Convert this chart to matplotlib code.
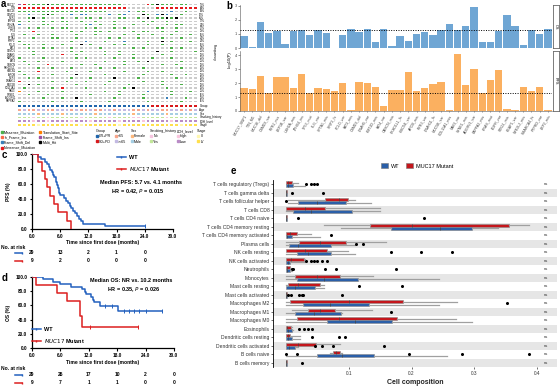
import numpy as np
import matplotlib
matplotlib.use("Agg")
import matplotlib.pyplot as plt
import matplotlib.transforms as mtrans
from matplotlib.colors import ListedColormap
from matplotlib.lines import Line2D
from matplotlib.patches import Patch

plt.rcParams['font.family'] = ['Liberation Sans', 'DejaVu Sans']
plt.rcParams['axes.linewidth'] = 0.6

W, H = 560, 386


def rect(x0, y0, x1, y1):
    # pixel box (top-left origin) -> figure fraction rect
    return [x0 / W, 1 - y1 / H, (x1 - x0) / W, (y1 - y0) / H]


def fx(x):
    return x / W


def fy(y):
    return 1 - y / H


# ---------------- data: a (oncoplot) ----------------
N_SAMPLES = 38
genes = ["MUC17", "TTN", "MUC16", "CSMD3", "RYR2", "LRP1B", "USH2A", "ZFHX4",
         "TP53", "FLG", "SPTA1", "XIRP2", "PCLO", "FAT3", "CSMD1", "DNAH5",
         "KMT2D", "FAT4", "OBSCN", "PKHD1L1", "HMCN1", "APOB", "RYR3",
         "DNAH11", "MUC5B", "COL11A1", "NAV3", "SYNE1", "ADGRV1", "PAPPA2"]
onco_rows = [
    "FNMMMMXMMMMMMMMMMMMMMM.....NMXMMM.MM..",
    "NNNNNNNNNNNNNNNNNNNNNNN......NNNNNNNNN",
    "MMMMMMMMMMMMMMMMMMM....D.MM.....D..M..",
    "..D..MXM...D.DD....D.MD...XM.DXD..M...",
    "..MX.M...M..M.MM.M...MM..M.X.MMXMX....",
    "M.M..M.M.MM..M..M...M.....M.M..M......",
    "D....MM...M...MD.M..M...M..M...M.MM...",
    "..M.M..M.MM...M.M...M.M......MM..M....",
    "...N.......M.M..MM.M....M.MM..M..M....",
    ".M..M..M....M...M.....M..M..M...M...M.",
    "...M...MM...M......M.M...M....M...M...",
    "M..........M..D...M...D....M..X.M...M.",
    ".MM..M...M...X.M....M.M....M..M.......",
    "..M..M.M...M.....M......M.M.....M.M...",
    "...M.......M.M....M..M.......X..M....M",
    "...M.....N..M.....M..M..M.....M.......",
    "M....M......M.M.....M...M...M...M.....",
    ".M..M....M........M...M..M.X......M...",
    "..M...N......M..M.....M.......M..M....",
    "....M..M...M.....M..M.....M.......M...",
    "M...N.....M....M......M....M..M.......",
    ".M.....M....X.....M.......M.....M..M..",
    "..M.M......M...M....X....M.......M....",
    "N......M..M...M....M......M...M.......",
    "..X.M.......M.....M....M......M...M...",
    ".M.....M.N....M.......M.X......M......",
    "T...M....M........M..M.....D....M...M.",
    "..M...M........M.....M....M.....M.....",
    ".....M...M..X.......M.....M....D...M..",
    "M......M.....M.....M.......M......M...",
]
mut_types = ["Missense_Mutation", "In_Frame_Ins", "Frame_Shift_Del", "Nonsense_Mutation",
             "Translation_Start_Site", "Frame_Shift_Ins", "Multi_Hit"]
mut_codes = ["M", "I", "D", "N", "T", "F", "X"]
mut_colors = ["#4DAF4A", "#FB6A4A", "#377EB8", "#E41A1C", "#FF7F00", "#984EA3", "#000000"]

track_names = ["Group", "Age", "Sex", "Smoking_history", "LDH_level", "Stage"]
tracks = [
    "BBBBBBBBBBBBBBBBBBBBBBBBBBBBRRRRRRRRRR",
    "abaabbaabbbabaabaabbabbbaababbaabbabab",
    "mmmmfmmmmfmmmmmmfmmmmmmmfmmmmmmfmmmmmm",
    "yyynyynyyyyyynyyyyynyyyynnyyyyynyyyyyy",
    "lllhllhllllhlllhlllllhllllhlllllhlllll",
    "44443444444443444444434444444444443444",
]
track_legend = [
    ("Group", ["CR+PR", "SD+PD"], ["B", "R"]),
    ("Age", ["<65", ">=65"], ["a", "b"]),
    ("Sex", ["Female", "Male"], ["f", "m"]),
    ("Smoking_history", ["No", "Yes"], ["n", "y"]),
    ("LDH_level", ["High", "Low"], ["h", "l"]),
    ("Stage", ["III", "IV"], ["3", "4"]),
]
track_colors = {"B": "#2166AC", "R": "#D7191C", "a": "#F7A58B", "b": "#C3B9E3",
                "f": "#FDB87D", "m": "#A6CEE3", "n": "#F6C5E0", "y": "#C2E699",
                "h": "#F9C6DD", "l": "#B98BC6", "3": "#FFF7B0", "4": "#FFE04D"}

# ---------------- data: b ----------------
b_labels = ["MUC17_SNP1", "TTN_M1", "MUC16_del", "CSMD3_var", "RYR2_mis", "LRP1B_var",
            "USH2A_mis", "ZFHX4_ins", "TP53_mut", "FLG_var", "SPTA1_mis", "XIRP2_fs",
            "PCLO_var", "FAT3_mis", "CSMD1_del", "DNAH5_var", "KMT2D_mis", "FAT4_var",
            "OBSCN_mis", "PKHD1L1_fs", "HMCN1_var", "APOB_mis", "RYR3_var", "DNAH11_fs",
            "MUC5B_var", "COL11A1_mis", "NAV3_var", "SYNE1_mis", "ADGRV1_var", "PAPPA2_mis",
            "KRAS_mut", "EGFR_var", "STK11_mis", "KEAP1_var", "NFE2L2_mis", "SMARCA4_fs",
            "PTPRD_var", "LRP2_mis"]
os_logp = [0.87, 0.10, 1.85, 1.05, 1.18, 0.30, 1.18, 1.32, 0.90, 1.32, 1.10, 0.00,
           0.93, 1.35, 1.15, 1.33, 0.45, 1.33, 0.12, 0.87, 0.50, 0.97, 1.12, 0.92,
           1.30, 1.69, 1.29, 1.59, 2.95, 0.45, 0.45, 1.21, 2.36, 1.57, 0.21, 1.29,
           1.00, 1.33]
pfs_logp = [1.66, 1.57, 2.50, 1.31, 2.43, 2.45, 1.64, 2.64, 1.31, 1.66, 1.57, 1.43,
            2.00, 0.05, 2.09, 1.98, 1.69, 0.35, 1.50, 1.50, 2.79, 1.43, 1.64, 1.93,
            2.05, 0.05, 4.07, 1.83, 2.98, 1.31, 2.21, 2.93, 0.15, 0.05, 1.69, 1.43,
            1.69, 0.08]

# ---------------- data: c, d (Kaplan-Meier) ----------------
pfs_wt_time = [0, 1.3, 2.0, 2.7, 3.2, 3.6, 3.9, 4.2, 4.4, 4.7, 5.0, 5.2, 5.4, 5.5, 5.7,
               5.8, 5.95, 6.8, 7.2, 7.6, 8.0, 8.4, 8.8, 9.2, 9.6, 10.0, 10.4, 10.9, 15.6, 24.0]
pfs_wt_surv = [100, 96.6, 93.1, 89.7, 86.2, 82.8, 79.3, 75.9, 72.4, 69.0, 65.5, 62.1, 58.6,
               55.2, 51.7, 48.3, 44.8, 41.4, 37.9, 34.5, 31.0, 27.6, 24.1, 20.7, 17.2,
               13.8, 10.3, 6.9, 3.4, 3.4]
pfs_mut_time = [0, 1.2, 2.1, 2.8, 3.1, 3.8, 4.7, 5.6, 7.4, 8.3]
pfs_mut_surv = [100, 88.9, 77.8, 66.7, 55.6, 44.4, 33.3, 22.2, 11.1, 0]
pfs_wt_censor = [24.0]

os_wt_time = [0, 2.4, 4.5, 5.9, 8.3, 10.5, 11.1, 11.5, 12.5, 12.8, 13.2, 14.3, 18.1, 27.5]
os_wt_surv = [100, 96.6, 93.1, 89.7, 86.2, 82.8, 79.2, 75.5, 71.7, 67.9, 64.1, 58.6,
              52.4, 52.4]
os_mut_time = [0, 0.8, 5.2, 7.3, 10.1, 10.6, 22.3]
os_mut_surv = [100, 88.9, 77.8, 66.7, 44.4, 29.6, 29.6]
os_wt_censor = [15.5, 16.8, 19.5, 20.5, 21.5, 22.5, 24.0, 27.5]
os_mut_censor = [12.2, 22.3]

pfs_risk_times = [0, 6, 12, 18, 24]
pfs_risk_wt = [29, 13, 2, 1, 0]
pfs_risk_mut = [9, 2, 0, 0, 0]
os_risk_times = [0, 6, 12, 18, 24, 30]
os_risk_wt = [29, 26, 17, 10, 2, 0]
os_risk_mut = [9, 7, 1, 1, 0, 0]

# ---------------- data: e (immune cell composition) ----------------
cell_types = ["T cells regulatory (Tregs)", "T cells gamma delta", "T cells follicular helper",
              "T cells CD8", "T cells CD4 naive", "T cells CD4 memory resting",
              "T cells CD4 memory activated", "Plasma cells", "NK cells resting",
              "NK cells activated", "Neutrophils", "Monocytes", "Mast cells resting",
              "Mast cells activated", "Macrophages M2", "Macrophages M1", "Macrophages M0",
              "Eosinophils", "Dendritic cells resting", "Dendritic cells activated",
              "B cells naive", "B cells memory"]
mut_lo = [0, 0, 0.003, 0, 0, 0.060, 0, 0, 0, 0, 0, 0, 0, 0, 0, 0.010, 0, 0, 0, 0, 0.070, 0]
mut_q1 = [0.000, 0.000, 0.062, 0.000, 0.000, 0.134, 0.000, 0.021, 0.000, 0.000, 0.000,
          0.014, 0.004, 0.000, 0.007, 0.035, 0.017, 0.000, 0.000, 0.000, 0.075, 0.000]
mut_med = [0.004, 0.000, 0.085, 0.030, 0.000, 0.200, 0.006, 0.055, 0.030, 0.008, 0.002,
           0.050, 0.020, 0.000, 0.100, 0.055, 0.085, 0.002, 0.003, 0.020, 0.080, 0.000]
mut_q3 = [0.010, 0.001, 0.099, 0.062, 0.001, 0.356, 0.017, 0.095, 0.065, 0.028, 0.006,
          0.086, 0.055, 0.001, 0.186, 0.078, 0.177, 0.008, 0.007, 0.048, 0.086, 0.001]
mut_hi = [0.020, 0.001, 0.110, 0.150, 0.001, 0.387, 0.040, 0.160, 0.099, 0.030, 0.008,
          0.138, 0.060, 0.001, 0.272, 0.137, 0.271, 0.010, 0.022, 0.086, 0.090, 0.001]
wt_lo = [0, 0, 0.003, 0, 0, 0.088, 0, 0, 0, 0, 0, 0, 0, 0, 0, 0, 0, 0, 0, 0, 0, 0]
wt_q1 = [0.000, 0.000, 0.020, 0.011, 0.000, 0.168, 0.000, 0.005, 0.017, 0.000, 0.000,
         0.017, 0.000, 0.000, 0.027, 0.014, 0.065, 0.000, 0.000, 0.000, 0.050, 0.000]
wt_med = [0.004, 0.000, 0.050, 0.040, 0.000, 0.245, 0.002, 0.020, 0.035, 0.003, 0.002,
          0.060, 0.015, 0.000, 0.070, 0.045, 0.110, 0.003, 0.004, 0.005, 0.090, 0.000]
wt_q3 = [0.012, 0.001, 0.096, 0.106, 0.001, 0.297, 0.009, 0.072, 0.071, 0.006, 0.006,
         0.115, 0.046, 0.001, 0.133, 0.088, 0.169, 0.010, 0.010, 0.014, 0.141, 0.001]
wt_hi = [0.030, 0.001, 0.136, 0.150, 0.001, 0.338, 0.055, 0.110, 0.110, 0.030, 0.010,
         0.244, 0.060, 0.002, 0.244, 0.090, 0.297, 0.012, 0.022, 0.020, 0.257, 0.001]
e_fliers = [[0.032, 0.040, 0.045, 0.050], [0.009, 0.059], [0.0], [], [0.020, 0.220], [],
            [0.072], [0.112, 0.122], [0.167, 0.215, 0.265],
            [0.032, 0.040, 0.045, 0.050, 0.058, 0.065], [0.009, 0.012, 0.062, 0.079, 0.175],
            [], [0.117, 0.185], [0.003, 0.008, 0.021, 0.025, 0.027, 0.090], [0.352], [0.168],
            [], [0.021, 0.028, 0.035, 0.042], [0.041, 0.085, 0.094],
            [0.046, 0.058, 0.075, 0.156], [0.0, 0.018, 0.196, 0.281, 0.387], [0.025]]

WT_BLUE = "#2361BE"
MUT_RED = "#DC1F1F"

fig = plt.figure(figsize=(5.6, 3.86), dpi=100)

# ======================= a: oncoplot =======================
onco = [r.ljust(N_SAMPLES, ".")[:N_SAMPLES] for r in onco_rows]
onco_cols = ["#CCCCCC"] + mut_colors
code_idx = {".": 0}
code_idx.update({c: i + 1 for i, c in enumerate(mut_codes)})
mat = np.array([[code_idx[ch] for ch in row] for row in onco])

ax_a = fig.add_axes(rect(17, 3, 198, 103))
ax_a.pcolormesh(mat, cmap=ListedColormap(onco_cols), vmin=-0.5, vmax=len(onco_cols) - 0.5,
                edgecolors="white", linewidth=0.25)
ax_a.set_xlim(0, N_SAMPLES)
ax_a.set_ylim(len(genes), 0)
ax_a.axis("off")
for i, g in enumerate(genes):
    ax_a.text(-0.3, i + 0.5, g, ha="right", va="center", fontsize=1.8, clip_on=False)
    pct = round(100 * sum(ch != "." for ch in onco[i]) / N_SAMPLES)
    ax_a.text(N_SAMPLES + 0.3, i + 0.5, f"{pct}%", ha="left", va="center", fontsize=1.8,
              clip_on=False)
fig.text(fx(214), fy(52), "Frequency", rotation=270, fontsize=2.6, ha="center", va="center")

tr_keys = sorted(track_colors)
tr_idx = {k: i for i, k in enumerate(tr_keys)}
tr_mat = np.array([[tr_idx[ch] for ch in t.ljust(N_SAMPLES, t[-1])[:N_SAMPLES]] for t in tracks])
ax_tr = fig.add_axes(rect(17, 104, 198, 127))
ax_tr.pcolormesh(tr_mat, cmap=ListedColormap([track_colors[k] for k in tr_keys]),
                 vmin=-0.5, vmax=len(tr_keys) - 0.5, edgecolors="white", linewidth=0.25)
ax_tr.set_xlim(0, N_SAMPLES)
ax_tr.set_ylim(len(tracks), 0)
ax_tr.axis("off")
for i, nm in enumerate(track_names):
    ax_tr.text(N_SAMPLES + 0.3, i + 0.5, nm, ha="left", va="center", fontsize=2.2,
               clip_on=False)


def small_legend(x, y, labels, colors, title=None, ncol=1):
    handles = [Line2D([], [], ls="", marker="s", ms=1.9, mfc=c, mec=c) for c in colors]
    fig.legend(handles, labels, title=title, loc="upper left",
               bbox_to_anchor=(fx(x), fy(y)), frameon=False, fontsize=2.6,
               title_fontsize=2.6, handlelength=0.6, handletextpad=0.3,
               labelspacing=0.35, borderpad=0, borderaxespad=0, columnspacing=0.8,
               alignment="left", ncol=ncol)


small_legend(1, 130, mut_types, mut_colors, ncol=2)
leg_x = [96, 115, 131, 150, 177, 197]
for (title, labs, keys), lx in zip(track_legend, leg_x):
    small_legend(lx, 129, labs, [track_colors[k] for k in keys], title=title)

# ======================= b: -log10(P) bars =======================
xb = np.arange(len(b_labels))
ax_os = fig.add_axes(rect(240, 5, 552, 48))
ax_pfs = fig.add_axes(rect(240, 51, 552, 111))
for ax, vals, col, top in [(ax_os, os_logp, "#6FA6D4", 3.07), (ax_pfs, pfs_logp, "#FBB060", 4.3)]:
    ax.bar(xb, vals, width=0.9, color=col, zorder=2)
    ax.axhline(-np.log10(0.05), color="black", ls=(0, (1, 1.5)), lw=0.7, zorder=3)
    ax.set_xlim(-0.5, len(xb) - 0.5)
    ax.set_ylim(0, top)
    ax.set_yticks(range(int(top) + 1))
    ax.tick_params(axis="y", labelsize=2.8, length=1.2, width=0.4, pad=1, colors="#444444")
    for s in ["top", "right"]:
        ax.spines[s].set_visible(False)
    ax.spines["left"].set_color("#555555")
    ax.spines["left"].set_linewidth(0.4)
ax_os.set_xticks([])
ax_os.spines["bottom"].set_visible(False)
ax_pfs.spines["bottom"].set_color("#555555")
ax_pfs.spines["bottom"].set_linewidth(0.4)
ax_pfs.set_xticks(xb)
ax_pfs.set_xticklabels(b_labels, rotation=60, ha="right", rotation_mode="anchor", fontsize=2.6)
ax_pfs.tick_params(axis="x", length=1, width=0.4, pad=1, colors="#444444")
fig.text(fx(230), fy(60), "-log10(P)", rotation=90, fontsize=3, ha="center", va="center")
for (y0, y1), lab in [((5, 48), "OS"), ((51, 111), "PFS")]:
    sax = fig.add_axes(rect(552.5, y0, 559, y1))
    sax.set_xticks([])
    sax.set_yticks([])
    for s in sax.spines.values():
        s.set_color("#666666")
        s.set_linewidth(0.6)
    sax.text(0.5, 0.5, lab, rotation=270, ha="center", va="center", fontsize=2.8,
             transform=sax.transAxes)

# ======================= c, d: Kaplan-Meier =======================


def surv_at(times, surv, t):
    idx = np.searchsorted(times, t, side="right") - 1
    return surv[idx]


def km_panel(box, wt_t, wt_s, mu_t, mu_s, wt_c, mu_c, ylab, risk_t, risk_wt, risk_mu,
             risk_y, xlab_y):
    ax = fig.add_axes(rect(*box))
    ax.step(wt_t, wt_s, where="post", color=WT_BLUE, lw=1.1, zorder=3)
    ax.step(mu_t, mu_s, where="post", color=MUT_RED, lw=1.1, zorder=3)
    ax.plot(wt_c, [surv_at(wt_t, wt_s, t) for t in wt_c], ls="", marker="|", ms=2.2,
            mew=0.7, color=WT_BLUE, zorder=4)
    ax.plot(mu_c, [surv_at(mu_t, mu_s, t) for t in mu_c], ls="", marker="|", ms=2.2,
            mew=0.7, color=MUT_RED, zorder=4)
    ax.set_xlim(0, 30)
    ax.set_ylim(0, 100)
    ax.set_xticks(np.arange(0, 31, 6))
    ax.set_xticklabels([f"{v:.1f}" for v in np.arange(0, 31, 6)])
    ax.set_yticks(np.arange(0, 101, 20))
    ax.set_yticklabels([f"{v:.1f}" for v in np.arange(0, 101, 20)])
    for s in ["top", "right"]:
        ax.spines[s].set_visible(False)
    for s in ["left", "bottom"]:
        ax.spines[s].set_linewidth(0.9)
    ax.tick_params(labelsize=3.4, length=1.8, width=0.8, pad=1.5)
    for lab in ax.get_xticklabels() + ax.get_yticklabels():
        lab.set_fontweight("bold")
    ax.set_ylabel(ylab, fontsize=3.5, fontweight="bold", labelpad=3)
    fig.text(fx(103), fy(xlab_y), "Time since first dose (months)", fontsize=3.6,
             fontweight="bold", ha="center", va="center")
    tr = mtrans.blended_transform_factory(ax.transData, fig.transFigure)
    fig.text(fx(1), fy(risk_y[0]), "No. at risk", fontsize=3.6, fontweight="bold",
             va="center")
    for ry, vals, col in [(risk_y[1], risk_wt, WT_BLUE), (risk_y[2], risk_mu, MUT_RED)]:
        fig.add_artist(Line2D([fx(15), fx(22)], [fy(ry), fy(ry)], color=col, lw=1.1,
                              marker="|", ms=2, markevery=[1], transform=fig.transFigure))
        for t, n in zip(risk_t, vals):
            ax.text(t, fy(ry), str(n), transform=tr, fontsize=3.6, fontweight="bold",
                    ha="center", va="center", clip_on=False)
    return ax


ax_c = km_panel((32, 154, 173, 229), pfs_wt_time, pfs_wt_surv, pfs_mut_time, pfs_mut_surv,
                pfs_wt_censor, [], "PFS (%)", pfs_risk_times, pfs_risk_wt, pfs_risk_mut,
                (248, 253, 261), 242.5)
ax_d = km_panel((32, 277, 174, 348), os_wt_time, os_wt_surv, os_mut_time, os_mut_surv,
                os_wt_censor, os_mut_censor, "OS (%)", os_risk_times, os_risk_wt,
                os_risk_mut, (369, 374.5, 383), 362.5)

leg_handles = [Line2D([], [], color=WT_BLUE, lw=1.1, marker="|", ms=2),
               Line2D([], [], color=MUT_RED, lw=1.1, marker="|", ms=2)]
leg_labels = ["WT", r"$\mathit{MUC17}$ Mutant"]
for lx, ly in [(117, 155), (32, 327)]:
    fig.legend(leg_handles, leg_labels, loc="upper left", bbox_to_anchor=(fx(lx), fy(ly)),
               frameon=False, prop={"size": 4, "weight": "bold"}, handlelength=1.6,
               handletextpad=0.6, labelspacing=0.9, borderpad=0, borderaxespad=0)

fig.text(fx(141), fy(183), "Median PFS: 5.7 vs. 4.1 months", fontsize=4, fontweight="bold",
         ha="center", va="center")
fig.text(fx(138), fy(192), r"HR = 0.42, $\mathit{P}$ = 0.015", fontsize=4, fontweight="bold",
         ha="center", va="center")
fig.text(fx(131), fy(280), "Median OS: NR vs. 10.2 months", fontsize=4, fontweight="bold",
         ha="center", va="center")
fig.text(fx(134), fy(290), r"HR = 0.35, $\mathit{P}$ = 0.026", fontsize=4, fontweight="bold",
         ha="center", va="center")

# ======================= e: boxplots =======================
ax_e = fig.add_axes(rect(273, 180, 557, 367))
n = len(cell_types)
centers = np.arange(n)[::-1]
for i, c in enumerate(centers):
    if i % 2 == 1:
        ax_e.axhspan(c - 0.5, c + 0.5, color="#E6E6E6", lw=0, zorder=0)


def stats(lo, q1, med, q3, hi):
    return [dict(whislo=a, q1=b, med=m, q3=d, whishi=e, fliers=[])
            for a, b, m, d, e in zip(lo, q1, med, q3, hi)]


for st, off, col in [(stats(mut_lo, mut_q1, mut_med, mut_q3, mut_hi), 0.17, "#C4161C"),
                     (stats(wt_lo, wt_q1, wt_med, wt_q3, wt_hi), -0.17, "#2B5FA8")]:
    ax_e.bxp(st, positions=centers + off, widths=0.32, vert=False, patch_artist=True,
             showcaps=False, manage_ticks=False,
             boxprops=dict(facecolor=col, edgecolor="#8A8A8A", lw=0.4),
             whiskerprops=dict(color="#A0A0A0", lw=0.9),
             medianprops=dict(color="#444444", lw=0.5))
for c, fl in zip(centers, e_fliers):
    ax_e.plot(fl, [c] * len(fl), ls="", marker="o", ms=1.2, color="black", zorder=4)
    ax_e.text(0.411, c, "ns", fontsize=3, va="center", ha="left", color="#333333")
ax_e.set_xlim(-0.0206, 0.4317)
ax_e.set_ylim(-0.5, n - 0.5)
ax_e.set_yticks(centers)
ax_e.set_yticklabels(cell_types, fontsize=3.6, color="#333333")
ax_e.set_xticks([0.1, 0.2, 0.3, 0.4])
ax_e.set_xticklabels(["0.1", "0.2", "0.3", "0.4"], fontsize=3.4, color="#333333")
ax_e.tick_params(axis="y", length=1.2, width=0.4, pad=1.5)
ax_e.tick_params(axis="x", length=1.2, width=0.4, pad=1.5)
for s in ["top", "right", "bottom"]:
    ax_e.spines[s].set_visible(False)
ax_e.spines["left"].set_linewidth(0.6)
ax_e.set_xlabel("Cell composition", fontsize=5, fontweight="bold", color="#222222", labelpad=2)
fig.legend([Patch(fc="#2B5FA8", ec="#777777", lw=0.4), Patch(fc="#C4161C", ec="#777777", lw=0.4)],
           ["WT", "MUC17 Mutant"], loc="center", bbox_to_anchor=(fx(417), fy(166)), ncol=2,
           frameon=False, fontsize=4, handlelength=1.3, handleheight=0.9, columnspacing=1.2,
           handletextpad=0.5, borderpad=0)

# panel letters
for lab, (x, y) in zip("abcde", [(1, 4), (226, 6), (2, 155), (2, 278), (231, 171)]):
    fig.text(fx(x), fy(y), lab, fontsize=7, fontweight="bold", ha="left", va="center")

fig.savefig("out.png", dpi=100)
